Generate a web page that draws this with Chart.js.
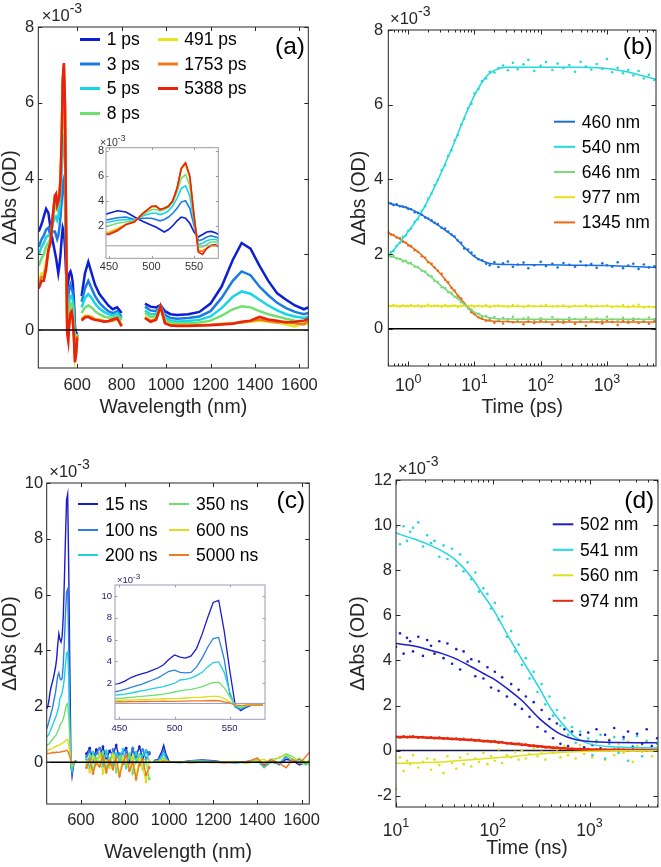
<!DOCTYPE html>
<html>
<head>
<meta charset="utf-8">
<title>Transient absorption</title>
<script src="https://cdn.jsdelivr.net/npm/chart.js@4.4.1/dist/chart.umd.min.js"></script>
<style>
  html, body { margin: 0; padding: 0; background: #fff; }
  body { width: 661px; height: 867px; position: relative; overflow: hidden; }
  canvas { position: absolute; }
</style>
</head>
<body>
<canvas id="panelA"></canvas>
<canvas id="panelB"></canvas>
<canvas id="panelC"></canvas>
<canvas id="panelD"></canvas>
<canvas id="insetA"></canvas>
<canvas id="insetC"></canvas>
<script>
const FONT = "'Liberation Sans', Arial, Helvetica, sans-serif";
const AXIS = "#262626";

// tick labels
const ticksWavelength = [600, 800, 1000, 1200, 1400, 1600];
const ticksInsetX = [450, 500, 550];
const ticksAbsAB = [0, 2, 4, 6, 8];
const ticksAbsC = [0, 2, 4, 6, 8, 10];
const ticksAbsD = [-2, 0, 2, 4, 6, 8, 10, 12];
const ticksInsetAY = [2, 4, 6, 8];
const ticksInsetCY = [2, 4, 6, 8, 10];

// (a) ps spectra
const wavelengthsA = [427, 440, 450, 460, 470, 480, 490, 500, 505, 510,
  515, 520, 525, 530, 535, 540, 545, 550, 555, 560,
  565, 570, 575, 580, 585, 590, 595, 600, 610, 620,
  635, 650, 665, 680, 700, 720, 740, 760, 780, 800,
  850, 905, 930, 955, 975, 995, 1020, 1050, 1100, 1150,
  1200, 1250, 1300, 1340, 1380, 1420, 1460, 1500, 1540, 1580,
  1620, 1640];
const delaysA = ["1 ps", "3 ps", "5 ps", "8 ps", "491 ps", "1753 ps", "5388 ps"];
const colorsA = ["#0d1fd6", "#1a7ae6", "#17d4e8", "#6fe070", "#e6e61a", "#ef7a1d", "#e8220c"];
const ps1 = [2.6, 2.8, 3.0, 3.2, 3.1, 2.7, 2.35, 2.05, 1.9, 1.7,
  1.5, 1.7, 2.0, 2.4, 2.7, 2.6, 2.2, 1.5, 1.1, 1.3,
  1.5, 1.55, 1.45, 1.25, 0.8, 0.1, -0.1, -0.05, null, 0.9,
  1.5, 1.8, 1.5, 1.2, 0.95, 0.8, 0.65, 0.55, 0.6, 0.45,
  null, 0.7, 0.62, 0.6, 0.66, 0.5, 0.42, 0.4, 0.42, 0.48,
  0.7, 1.15, 1.85, 2.3, 2.15, 1.7, 1.3, 0.97, 0.8, 0.65,
  0.55, 0.6];
const ps3 = [2.2, 2.4, 2.5, 2.65, 2.7, 2.5, 2.6, 2.6, 2.5, 2.4,
  2.5, 2.7, 3.0, 3.4, 3.9, 4.0, 3.4, 2.0, 0.8, 0.9,
  1.1, 1.2, 1.1, 1.0, 0.6, -0.2, -0.3, -0.1, null, 0.75,
  1.1, 1.3, 1.1, 0.9, 0.72, 0.6, 0.5, 0.45, 0.5, 0.35,
  null, 0.62, 0.52, 0.5, 0.64, 0.4, 0.32, 0.3, 0.32, 0.36,
  0.5, 0.85, 1.3, 1.55, 1.45, 1.15, 0.92, 0.72, 0.58, 0.48,
  0.42, 0.45];
const ps5 = [2.0, 2.2, 2.3, 2.45, 2.5, 2.45, 2.8, 3.0, 3.0, 2.9,
  3.0, 3.2, 3.6, 4.2, 5.0, 5.2, 4.4, 2.3, 0.5, 0.6,
  0.8, 0.9, 0.9, 0.8, 0.4, -0.4, -0.4, -0.1, null, 0.6,
  0.85, 0.95, 0.85, 0.7, 0.57, 0.48, 0.42, 0.38, 0.45, 0.3,
  null, 0.52, 0.42, 0.42, 0.63, 0.32, 0.25, 0.23, 0.24, 0.27,
  0.36, 0.58, 0.88, 1.02, 0.96, 0.8, 0.65, 0.52, 0.42, 0.36,
  0.32, 0.35];
const ps8 = [1.7, 1.9, 2.0, 2.2, 2.3, 2.4, 2.9, 3.3, 3.3, 3.2,
  3.3, 3.5, 3.9, 4.7, 5.8, 6.1, 5.2, 2.6, 0.3, 0.3,
  0.5, 0.7, 0.7, 0.6, 0.2, -0.6, -0.5, -0.1, null, 0.45,
  0.6, 0.65, 0.6, 0.5, 0.42, 0.36, 0.33, 0.32, 0.38, 0.25,
  null, 0.45, 0.35, 0.36, 0.62, 0.26, 0.2, 0.18, 0.18, 0.2,
  0.25, 0.38, 0.55, 0.63, 0.6, 0.5, 0.42, 0.36, 0.3, 0.25,
  0.24, 0.28];
const ps491 = [1.3, 1.5, 1.5, 1.8, 2.1, 2.35, 3.0, 3.5, 3.55, 3.35,
  3.4, 3.6, 4.0, 5.0, 6.5, 6.9, 5.8, 2.8, 0.1, 0.0,
  0.2, 0.4, 0.4, 0.3, -0.1, -0.75, -0.6, -0.15, null, 0.3,
  0.38, 0.38, 0.35, 0.3, 0.28, 0.25, 0.24, 0.25, 0.3, 0.15,
  null, 0.35, 0.25, 0.3, 0.62, 0.2, 0.14, 0.12, 0.12, 0.13,
  0.14, 0.16, 0.18, 0.2, 0.22, 0.25, 0.22, 0.2, 0.15, 0.1,
  0.2, 0.15];
const ps1753 = [1.2, 1.4, 1.4, 1.7, 2.1, 2.35, 3.0, 3.55, 3.55, 3.35,
  3.4, 3.6, 4.0, 5.0, 6.6, 7.0, 5.9, 2.8, 0.0, -0.05,
  0.2, 0.4, 0.45, 0.3, -0.1, -0.8, -0.6, -0.15, null, 0.28,
  0.36, 0.36, 0.33, 0.28, 0.26, 0.24, 0.23, 0.25, 0.3, 0.12,
  null, 0.33, 0.24, 0.28, 0.62, 0.19, 0.13, 0.12, 0.12, 0.13,
  0.14, 0.16, 0.18, 0.2, 0.24, 0.28, 0.24, 0.2, 0.22, 0.18,
  0.15, 0.25];
const ps5388 = [1.1, 1.3, 1.3, 1.6, 2.1, 2.3, 3.0, 3.55, 3.6, 3.3,
  3.4, 3.55, 4.0, 5.0, 6.6, 7.05, 6.0, 2.8, -0.1, -0.3,
  0.2, 0.45, 0.5, 0.3, -0.2, -0.85, -0.65, -0.2, null, 0.25,
  0.33, 0.35, 0.3, 0.27, 0.25, 0.22, 0.24, 0.28, 0.32, 0.1,
  null, 0.32, 0.22, 0.27, 0.63, 0.18, 0.12, 0.11, 0.11, 0.12,
  0.13, 0.15, 0.17, 0.22, 0.25, 0.35, 0.28, 0.25, 0.2, 0.22,
  0.25, 0.3];
const spectraA = [ps1, ps3, ps5, ps8, ps491, ps1753, ps5388];

// (b) ps kinetics
const timesB = [0.5, 0.55, 0.6, 0.67, 0.75, 0.83, 0.92, 1.0, 1.1, 1.25,
  1.4, 1.6, 1.8, 2.0, 2.25, 2.5, 2.8, 3.2, 3.6, 4.0,
  4.5, 5.0, 5.6, 6.3, 7.0, 8.0, 9.0, 10, 11.5, 13,
  15, 17, 20, 23, 27, 32, 38, 45, 55, 65,
  80, 100, 120, 150, 180, 220, 270, 330, 400, 480,
  580, 700, 850, 1000, 1200, 1450, 1750, 2100, 2500, 3000,
  3600, 4300, 5200];
const timesBFit = [0.5, 0.7, 1, 1.5, 2, 3, 4, 5, 7, 10, 13, 16, 20, 30, 50, 100, 300, 1000, 2000, 3000, 5500];
const probesB = ["460 nm", "540 nm", "646 nm", "977 nm", "1345 nm"];
const colorsB = ["#1a6fdf", "#22dada", "#7ad97a", "#e4e412", "#ea6a15"];
const b460 = [3.38, 3.35, 3.31, 3.33, 3.28, 3.27, 3.25, 3.21, 3.20, 3.12,
  3.10, 3.05, 2.98, 2.95, 2.90, 2.84, 2.80, 2.70, 2.68, 2.60,
  2.52, 2.47, 2.36, 2.30, 2.15, 2.12, 2.04, 1.95, 1.86, 1.83,
  1.74, 1.70, 1.78, 1.65, 1.75, 1.80, 1.66, 1.72, 1.77, 1.62,
  1.70, 1.79, 1.68, 1.74, 1.64, 1.76, 1.71, 1.66, 1.80, 1.69,
  1.73, 1.63, 1.75, 1.70, 1.66, 1.78, 1.62, 1.69, 1.74, 1.60,
  1.72, 1.64, 1.67];
const b540 = [1.93, 2.05, 2.08, 2.22, 2.30, 2.46, 2.50, 2.62, 2.68, 2.86,
  2.93, 3.16, 3.28, 3.48, 3.62, 3.84, 3.98, 4.24, 4.38, 4.63,
  4.78, 5.04, 5.18, 5.46, 5.62, 5.90, 6.02, 6.30, 6.42, 6.63,
  6.70, 6.88, 6.86, 6.98, 7.05, 6.92, 7.12, 6.95, 7.08, 7.20,
  6.90, 7.04, 7.14, 6.93, 7.10, 6.98, 7.06, 6.88, 7.15, 7.02,
  6.94, 7.09, 6.96, 7.22, 6.87, 6.99, 6.84, 6.93, 6.78, 6.90,
  6.70, 6.80, 6.66];
const b646 = [1.97, 1.93, 1.95, 1.88, 1.87, 1.80, 1.82, 1.75, 1.76, 1.66,
  1.65, 1.55, 1.53, 1.43, 1.40, 1.28, 1.25, 1.11, 1.09, 0.98,
  0.96, 0.85, 0.82, 0.71, 0.67, 0.55, 0.51, 0.42, 0.40, 0.33,
  0.34, 0.28, 0.31, 0.22, 0.29, 0.24, 0.32, 0.21, 0.27, 0.30,
  0.23, 0.28, 0.20, 0.31, 0.25, 0.22, 0.29, 0.26, 0.19, 0.30,
  0.24, 0.27, 0.21, 0.32, 0.25, 0.23, 0.29, 0.20, 0.27, 0.26,
  0.22, 0.30, 0.25];
const b977 = [0.62, 0.60, 0.63, 0.61, 0.59, 0.62, 0.60, 0.61, 0.63, 0.60,
  0.62, 0.59, 0.61, 0.64, 0.60, 0.62, 0.61, 0.59, 0.63, 0.60,
  0.61, 0.62, 0.58, 0.61, 0.63, 0.60, 0.62, 0.59, 0.61, 0.60,
  0.63, 0.58, 0.61, 0.62, 0.60, 0.59, 0.63, 0.61, 0.58, 0.62,
  0.60, 0.61, 0.63, 0.59, 0.60, 0.62, 0.58, 0.61, 0.60, 0.63,
  0.59, 0.61, 0.60, 0.62, 0.58, 0.60, 0.63, 0.59, 0.61, 0.64,
  0.57, 0.59, 0.58];
const b1345 = [2.58, 2.52, 2.51, 2.44, 2.42, 2.33, 2.30, 2.23, 2.21, 2.10,
  2.06, 1.94, 1.90, 1.78, 1.74, 1.64, 1.55, 1.47, 1.31, 1.24,
  1.09, 1.02, 0.88, 0.81, 0.67, 0.58, 0.44, 0.39, 0.30, 0.27,
  0.21, 0.23, 0.16, 0.22, 0.14, 0.20, 0.17, 0.24, 0.12, 0.19,
  0.15, 0.22, 0.18, 0.11, 0.20, 0.16, 0.23, 0.13, 0.19, 0.08,
  0.21, 0.17, 0.14, 0.22, 0.18, 0.10, 0.20, 0.16, 0.23, 0.15,
  0.19, 0.13, 0.21];
const b460Fit = [3.36, 3.30, 3.23, 3.08, 2.94, 2.74, 2.58, 2.45, 2.18, 1.93, 1.82, 1.76, 1.73, 1.72, 1.71, 1.71, 1.70, 1.69, 1.67, 1.66, 1.64];
const b540Fit = [1.95, 2.25, 2.6, 3.05, 3.45, 4.1, 4.6, 5.0, 5.65, 6.25, 6.6, 6.8, 6.92, 7.0, 7.0, 7.0, 7.0, 6.97, 6.88, 6.8, 6.68];
const b646Fit = [1.96, 1.88, 1.77, 1.6, 1.45, 1.18, 1.0, 0.87, 0.66, 0.44, 0.35, 0.3, 0.27, 0.26, 0.25, 0.25, 0.25, 0.25, 0.25, 0.25, 0.25];
const b977Fit = [0.61, 0.61, 0.61, 0.61, 0.61, 0.61, 0.61, 0.61, 0.61, 0.61, 0.6, 0.6, 0.6, 0.6, 0.6, 0.6, 0.6, 0.6, 0.59, 0.59, 0.58];
const b1345Fit = [2.57, 2.43, 2.25, 2.02, 1.8, 1.49, 1.22, 1.0, 0.69, 0.38, 0.26, 0.22, 0.2, 0.19, 0.18, 0.18, 0.18, 0.18, 0.18, 0.18, 0.18];

// (c) ns spectra
const wavelengthsC = [445, 450, 455, 460, 465, 470, 475, 480, 485, 490,
  495, 500, 505, 510, 515, 520, 525, 530, 535, 540,
  545, 550, 555, 560, 565, 570, 575, 580, 600, 625,
  640, 655, 670, 685, 700, 715, 730, 745, 760, 775,
  790, 805, 820, 835, 850, 865, 880, 895, 910, 920,
  930, 950, 965, 975, 985, 1000, 1050, 1100, 1150, 1200,
  1250, 1300, 1350, 1400, 1430, 1460, 1500, 1530, 1560, 1590,
  1620, 1640];
const delaysC = ["15 ns", "100 ns", "200 ns", "350 ns", "600 ns", "5000 ns"];
const colorsC = ["#1b1bd0", "#2b82e0", "#22d0e0", "#6ee06e", "#dede1a", "#f07a20"];
const ns15 = [1.9, 2.0, 2.2, 2.5, 2.7, 2.85, 3.0, 3.2, 3.4, 3.7,
  4.2, 4.6, 4.4, 4.3, 4.5, 5.2, 6.5, 8.0, 9.4, 9.6,
  6.8, 3.2, 0.0, -0.5, -0.2, 0.0, 0.0, 0.05, null, 0.3,
  0.5, 0.1, 0.45, 0.2, 0.55, 0.05, 0.4, 0.25, 0.6, 0.1,
  0.35, 0.5, 0.0, 0.45, 0.2, 0.55, 0.15, 0.4, 0.3, null,
  0.05, 0.1, 0.35, 0.6, 0.3, 0.02, 0.0, 0.05, 0.08, 0.05,
  0.0, 0.0, 0.02, 0.05, -0.1, 0.0, -0.05, 0.1, 0.05, -0.1,
  0.0, 0.05];
const ns100 = [1.2, 1.3, 1.45, 1.6, 1.75, 1.9, 2.1, 2.3, 2.5, 2.8,
  3.1, 3.2, 3.0, 2.95, 3.0, 3.5, 4.3, 5.3, 6.1, 6.2,
  4.2, 1.0, -0.2, -0.4, -0.1, 0.0, 0.05, 0.0, null, 0.2,
  0.4, 0.0, 0.3, 0.5, 0.1, 0.35, -0.1, 0.45, 0.2, 0.3,
  -0.05, 0.4, 0.15, 0.5, 0.0, 0.25, 0.45, 0.1, 0.35, null,
  0.05, 0.08, 0.25, 0.45, 0.2, 0.0, 0.0, 0.04, 0.06, 0.03,
  0.0, -0.02, 0.0, 0.08, -0.15, 0.05, -0.1, 0.2, 0.0, 0.1,
  -0.05, 0.0];
const ns200 = [0.9, 0.95, 1.0, 1.1, 1.2, 1.3, 1.4, 1.5, 1.6, 1.7,
  1.85, 2.0, 2.3, 2.35, 2.5, 2.7, 3.0, 3.5, 3.9, 3.95,
  3.0, 1.2, -0.1, -0.3, -0.1, 0.0, 0.0, 0.0, null, 0.1,
  -0.2, 0.35, 0.0, 0.25, -0.15, 0.4, 0.1, -0.1, 0.3, 0.05,
  0.45, -0.2, 0.2, 0.0, 0.35, -0.1, 0.25, 0.4, 0.0, null,
  0.03, 0.05, 0.15, 0.3, 0.12, 0.0, -0.02, 0.03, 0.04, 0.02,
  0.0, -0.03, 0.02, 0.05, -0.2, 0.0, -0.05, 0.25, 0.1, -0.05,
  0.0, -0.1];
const ns350 = [0.6, 0.62, 0.65, 0.7, 0.75, 0.8, 0.85, 0.9, 0.95, 1.0,
  1.1, 1.2, 1.3, 1.4, 1.45, 1.55, 1.7, 1.9, 2.05, 2.1,
  1.6, 0.8, 0.0, -0.2, -0.05, 0.0, 0.0, 0.0, null, -0.1,
  0.25, -0.3, 0.15, 0.0, 0.35, -0.2, 0.1, 0.3, -0.35, 0.2,
  0.0, -0.15, 0.3, -0.4, 0.1, 0.25, -0.25, 0.05, -0.6, null,
  0.02, 0.03, 0.1, 0.15, 0.08, 0.0, 0.0, 0.02, 0.02, 0.0,
  0.0, 0.0, -0.02, 0.1, -0.05, 0.1, 0.15, 0.3, 0.2, 0.0,
  -0.1, 0.0];
const ns600 = [0.4, 0.42, 0.45, 0.45, 0.48, 0.5, 0.5, 0.55, 0.55, 0.58,
  0.6, 0.6, 0.62, 0.65, 0.68, 0.7, 0.72, 0.78, 0.8, 0.8,
  0.6, 0.3, 0.0, -0.1, 0.0, 0.0, 0.0, 0.0, null, 0.0,
  -0.35, 0.2, -0.1, 0.3, -0.4, 0.05, -0.2, 0.25, -0.05, -0.45,
  0.15, 0.0, -0.3, 0.2, -0.55, 0.1, -0.15, -0.7, 0.05, null,
  0.0, 0.02, 0.05, 0.1, 0.05, 0.0, 0.0, 0.0, 0.0, -0.02,
  0.0, 0.02, -0.05, 0.05, 0.1, -0.05, 0.2, 0.25, 0.05, 0.15,
  0.0, 0.1];
const ns5000 = [0.3, 0.32, 0.3, 0.33, 0.32, 0.35, 0.33, 0.35, 0.34, 0.36,
  0.35, 0.35, 0.36, 0.37, 0.38, 0.38, 0.39, 0.4, 0.42, 0.4,
  0.3, 0.2, 0.0, -0.05, 0.0, 0.0, 0.0, 0.0, null, -0.2,
  0.1, -0.4, 0.0, -0.15, 0.2, -0.35, 0.05, -0.25, 0.15, -0.5,
  -0.05, 0.25, -0.3, 0.0, -0.6, -0.1, 0.1, -0.45, -0.2, null,
  0.0, 0.0, 0.02, 0.05, 0.02, 0.0, 0.0, -0.02, 0.0, 0.0,
  -0.03, 0.0, 0.0, 0.15, -0.15, 0.1, -0.05, -0.2, 0.1, -0.05,
  0.2, 0.4];
const spectraC = [ns15, ns100, ns200, ns350, ns600, ns5000];

// (d) ns kinetics
const timesD = [10, 11, 12, 13, 14, 15, 17, 19, 21, 23,
  25, 28, 31, 34, 38, 42, 46, 50, 55, 60,
  66, 72, 80, 88, 96, 105, 115, 125, 140, 155,
  170, 185, 200, 220, 240, 265, 290, 320, 350, 385,
  420, 460, 500, 550, 600, 660, 720, 800, 880, 970,
  1070, 1180, 1300, 1450, 1600, 1800, 2000, 2250, 2500, 2800,
  3100, 3500, 3900, 4400, 5000];
const timesDFit = [10, 15, 20, 30, 40, 60, 80, 100, 150, 200, 300, 400, 500, 700, 1000, 2000, 5000];
const probesD = ["502 nm", "541 nm", "560 nm", "974 nm"];
const colorsD = ["#1c1cc8", "#22d8dc", "#e0e01a", "#e62a10"];
const d502 = [4.60, 5.20, 4.30, 5.00, 4.85, 4.40, 5.05, 4.20, 4.90, 4.65,
  4.30, 4.85, 4.10, 4.75, 3.85, 4.50, 3.60, 4.40, 3.95, 4.05,
  3.30, 3.95, 3.20, 3.70, 2.80, 3.50, 2.65, 3.25, 2.40, 2.95,
  2.05, 2.70, 1.85, 2.40, 1.50, 2.15, 1.05, 1.80, 0.85, 1.40,
  0.55, 1.20, 0.30, 0.95, 0.20, 0.85, 0.05, 0.70, 0.15, 0.80,
  0.25, 0.95, 0.10, 0.70, 0.45, 1.00, 0.05, 0.60, 0.85, 0.15,
  0.75, 0.30, 0.95, 0.20, 0.55];
const d541 = [9.90, 9.15, 9.95, 9.30, 9.70, 9.88, 10.12, 9.05, 9.55, 9.20,
  9.30, 8.60, 9.10, 8.50, 8.95, 8.20, 8.70, 7.95, 8.35, 7.60,
  7.90, 7.05, 7.20, 6.95, 6.30, 6.55, 5.80, 5.95, 5.05, 5.30,
  4.40, 4.70, 3.80, 4.10, 3.20, 3.50, 2.60, 2.95, 2.05, 2.40,
  1.55, 1.80, 1.10, 1.45, 0.70, 1.05, 0.35, 0.85, 0.10, 0.55,
  -0.20, 0.45, 0.70, -0.35, 0.30, 0.60, -0.10, 0.50, -0.45, 0.20,
  0.65, -0.25, 0.40, 0.05, 0.30];
const d560 = [-1.70, -0.30, -0.90, -0.45, -0.60, -0.20, -0.75, -0.50, -0.35, -0.85,
  -0.40, -0.65, -1.00, -0.25, -0.55, -0.80, -0.30, -0.60, -0.15, -0.70,
  -0.35, -0.50, -0.10, -0.60, -0.25, -0.45, 0.05, -0.55, -0.20, -0.30,
  -0.05, -0.40, 0.00, -0.35, -0.15, 0.10, -0.25, -0.05, -0.40, 0.15,
  -0.10, 0.05, -0.30, 0.20, -0.20, 0.10, -0.35, 0.25, -0.15, 0.45,
  -0.30, 0.35, 0.05, -0.40, 0.50, -0.20, 0.30, -0.10, 0.40, -0.50,
  0.20, -0.05, 0.45, -0.25, 0.15];
const d974 = [0.62, 0.58, 0.63, 0.59, 0.61, 0.64, 0.57, 0.60, 0.56, 0.59,
  0.55, 0.58, 0.53, 0.56, 0.51, 0.54, 0.49, 0.52, 0.47, 0.49,
  0.44, 0.47, 0.41, 0.44, 0.39, 0.41, 0.35, 0.38, 0.32, 0.34,
  0.29, 0.31, 0.25, 0.27, 0.21, 0.23, 0.17, 0.19, 0.14, 0.17,
  0.12, 0.14, 0.09, 0.12, 0.07, 0.10, 0.05, 0.08, 0.03, 0.07,
  0.02, 0.06, 0.03, 0.05, 0.01, 0.05, 0.02, 0.04, 0.00, 0.05,
  0.02, 0.04, 0.01, 0.03, 0.02];
const d502Fit = [4.75, 4.65, 4.52, 4.3, 4.1, 3.72, 3.42, 3.2, 2.66, 2.22, 1.44, 1.0, 0.73, 0.5, 0.4, 0.36, 0.35];
const d541Fit = [9.65, 9.4, 9.2, 8.85, 8.5, 7.7, 6.9, 6.3, 4.95, 4.05, 2.8, 1.85, 1.3, 0.62, 0.3, 0.16, 0.12];
const d560Fit = [-0.56, -0.55, -0.53, -0.5, -0.46, -0.4, -0.36, -0.33, -0.27, -0.22, -0.15, -0.11, -0.08, -0.05, -0.03, -0.01, 0.0];
const d974Fit = [0.6, 0.6, 0.58, 0.55, 0.52, 0.47, 0.43, 0.4, 0.32, 0.27, 0.19, 0.14, 0.11, 0.07, 0.05, 0.04, 0.03];

const toXY = (xs, ys) => xs.map((x, i) => ({ x: x, y: ys[i] }));

const setCanvas = (id, left, top, w, h) => {
  let c = document.getElementById(id);
  c.width = w;
  c.height = h;
  c.style.left = left + "px";
  c.style.top = top + "px";
  c.style.width = w + "px";
  c.style.height = h + "px";
  return c;
};

const logTicks = (scale) => {
  let out = [];
  for (let e = Math.floor(Math.log10(scale.min)); e <= Math.ceil(Math.log10(scale.max)); e++) {
    for (let s = 1; s < 10; s++) {
      let v = s * Math.pow(10, e);
      if (v >= scale.min * 0.9999 && v <= scale.max * 1.0001) out.push({ v: v, major: s === 1, e: e });
    }
  }
  return out;
};

const supText = (ctx, base, sup, x, y, size, supSize, rise, align) => {
  ctx.textAlign = "left";
  ctx.textBaseline = "alphabetic";
  ctx.font = size + "px " + FONT;
  let w1 = ctx.measureText(base).width;
  ctx.font = supSize + "px " + FONT;
  let w2 = ctx.measureText(sup).width;
  let x0 = align === "center" ? x - (w1 + w2) / 2 : x;
  ctx.font = size + "px " + FONT;
  ctx.fillText(base, x0, y);
  ctx.font = supSize + "px " + FONT;
  ctx.fillText(sup, x0 + w1, y - rise);
};

const drawZero = (chart, z) => {
  let { ctx, chartArea: a, scales } = chart;
  let py = scales.y.getPixelForValue(z.at);
  ctx.save();
  ctx.strokeStyle = z.color;
  ctx.lineWidth = z.width;
  ctx.beginPath();
  ctx.moveTo(a.left, py);
  ctx.lineTo(a.right, py);
  ctx.stroke();
  ctx.restore();
};

const drawFrame = (chart, cfg) => {
  let { ctx, chartArea: a, scales } = chart;
  let len = cfg.tick, minor = cfg.minor;
  ctx.save();
  ctx.strokeStyle = cfg.box || AXIS;
  ctx.lineWidth = 1;
  ctx.beginPath();
  let xt = scales.x.type === "logarithmic" ? logTicks(scales.x) : scales.x.ticks.map(t => ({ v: t.value, major: true }));
  xt.forEach(t => {
    let px = Math.round(scales.x.getPixelForValue(t.v)) + 0.5;
    let l = t.major ? len : minor;
    ctx.moveTo(px, a.bottom);
    ctx.lineTo(px, a.bottom - l);
    ctx.moveTo(px, a.top);
    ctx.lineTo(px, a.top + l);
  });
  scales.y.ticks.forEach(t => {
    let py = Math.round(scales.y.getPixelForValue(t.value)) + 0.5;
    ctx.moveTo(a.left, py);
    ctx.lineTo(a.left + len, py);
    ctx.moveTo(a.right, py);
    ctx.lineTo(a.right - len, py);
  });
  ctx.stroke();
  ctx.strokeRect(a.left, a.top, a.right - a.left, a.bottom - a.top);
  ctx.restore();
};

const drawTexts = (chart, cfg) => {
  let { ctx, scales } = chart;
  ctx.save();
  ctx.fillStyle = cfg.textColor || AXIS;
  if (cfg.logLabel) {
    let L = cfg.logLabel;
    logTicks(scales.x).filter(t => t.major).forEach(t => {
      supText(ctx, "10", String(t.e), scales.x.getPixelForValue(t.v), L.y, L.size, L.sup, L.rise, "center");
    });
  }
  if (cfg.expo) {
    let E = cfg.expo;
    supText(ctx, "\u00d710", "-3", E.x, E.y, E.size, E.sup, E.rise, "left");
  }
  (cfg.texts || []).forEach(t => {
    ctx.save();
    ctx.font = t.size + "px " + FONT;
    ctx.textAlign = "center";
    ctx.textBaseline = "middle";
    ctx.fillStyle = t.color || AXIS;
    ctx.translate(t.x, t.y);
    if (t.rot) ctx.rotate(-Math.PI / 2);
    ctx.fillText(t.t, 0, 0);
    ctx.restore();
  });
  if (cfg.legend) {
    let lg = cfg.legend;
    ctx.font = lg.size + "px " + FONT;
    ctx.textAlign = "left";
    ctx.textBaseline = "middle";
    lg.items.forEach(it => {
      let col = lg.cols[it.col], y = lg.rows[it.row];
      ctx.strokeStyle = it.c;
      ctx.lineWidth = lg.lw;
      ctx.beginPath();
      ctx.moveTo(col[0], y);
      ctx.lineTo(col[1], y);
      ctx.stroke();
      ctx.fillStyle = "#000";
      ctx.fillText(it.t, col[2], y + 1);
    });
  }
  ctx.restore();
};

const makeDecor = (cfg) => ({
  id: "decor",
  beforeDraw(chart) {
    if (!cfg.white) return;
    let { ctx, chartArea: a } = chart;
    ctx.save();
    ctx.fillStyle = "#fff";
    ctx.fillRect(a.left, a.top, a.right - a.left, a.bottom - a.top);
    ctx.restore();
  },
  beforeDatasetsDraw(chart) {
    if (cfg.zero && cfg.zero.under) drawZero(chart, cfg.zero);
  },
  afterDatasetsDraw(chart) {
    if (cfg.zero && !cfg.zero.under) drawZero(chart, cfg.zero);
    drawFrame(chart, cfg);
  },
  afterDraw(chart) {
    drawTexts(chart, cfg);
  }
});

const linX = (min, max, tickValues, h, size, pad, color) => ({
  type: "linear", min: min, max: max,
  afterBuildTicks: s => { s.ticks = tickValues.map(v => ({ value: v })); },
  afterFit: s => { s.height = h; },
  grid: { display: false, drawTicks: false },
  border: { display: false },
  ticks: { autoSkip: false, maxRotation: 0, padding: pad, color: color,
    font: { family: FONT, size: size }, callback: v => String(v) }
});

const linY = (min, max, tickValues, w, size, pad, color) => ({
  type: "linear", min: min, max: max,
  afterBuildTicks: s => { s.ticks = tickValues.map(v => ({ value: v })); },
  afterFit: s => { s.width = w; },
  grid: { display: false, drawTicks: false },
  border: { display: false },
  ticks: { autoSkip: false, padding: pad, color: color,
    font: { family: FONT, size: size }, callback: v => String(v) }
});

const logX = (min, max, h) => ({
  type: "logarithmic", min: min, max: max,
  afterFit: s => { s.height = h; },
  grid: { display: false, drawTicks: false },
  border: { display: false },
  ticks: { display: false }
});

const buildChart = (canvas, datasets, p) => new Chart(canvas, {
  type: "line",
  data: { datasets: datasets },
  options: {
    responsive: false,
    animation: false,
    events: [],
    layout: { autoPadding: false, padding: { left: 0, top: p.top, right: p.right, bottom: 0 } },
    scales: { x: p.x, y: p.y },
    plugins: { legend: { display: false }, tooltip: { enabled: false } }
  },
  plugins: [makeDecor(p.decor)]
});

const lineSets = (xs, series, colors, width) => series.map((s, i) => ({
  data: toXY(xs, s),
  borderColor: colors[i],
  backgroundColor: colors[i],
  borderWidth: width,
  pointRadius: 0,
  spanGaps: false,
  order: -i
}));

const kinSets = (t, tFit, dots, fits, colors, fitWidths) => {
  let sets = [];
  dots.forEach((d, i) => {
    sets.push({ data: toXY(t, d), showLine: false, pointRadius: 1.3, pointBorderWidth: 0,
      pointBackgroundColor: colors[i], borderColor: colors[i], order: 1 });
    sets.push({ data: toXY(tFit, fits[i]), borderColor: colors[i], borderWidth: fitWidths[i],
      pointRadius: 0, cubicInterpolationMode: "monotone", order: 0 });
  });
  return sets;
};

// panel (a)
buildChart(setCanvas("panelA", 0, 0, 330, 430), lineSets(wavelengthsA, spectraA, colorsA, 2.5), {
  top: 27, right: 21.7,
  x: linX(425, 1640, ticksWavelength, 62, 16.5, 8, AXIS),
  y: linY(-1, 8, ticksAbsAB, 38.3, 16.5, 4, AXIS),
  decor: {
    tick: 4, minor: 2.5,
    zero: { at: 0, color: "#000", width: 1.5 },
    expo: { x: 41.7, y: 20.5, size: 16.5, sup: 14, rise: 8 },
    texts: [
      { t: "(a)", x: 290, y: 47.5, size: 24.5, color: "#000" },
      { t: "Wavelength (nm)", x: 173.3, y: 408, size: 19.5 },
      { t: "\u0394Abs (OD)", x: 11, y: 197.5, size: 19.5, rot: true }
    ],
    legend: {
      size: 17.5, lw: 3,
      cols: [[80, 100, 106.7], [158, 178, 184.3]],
      rows: [39.5, 64, 88.5, 113.5],
      items: delaysA.map((t, i) => ({ t: t, c: colorsA[i], col: i < 4 ? 0 : 1, row: i < 4 ? i : i - 4 }))
    }
  }
});

// panel (b)
buildChart(setCanvas("panelB", 330, 0, 331, 430),
  kinSets(timesB, timesBFit, [b460, b540, b646, b977, b1345], [b460Fit, b540Fit, b646Fit, b977Fit, b1345Fit], colorsB, [1.5, 1.5, 1.5, 1.5, 1.5]), {
  top: 30, right: 5,
  x: logX(0.5, 5500, 64),
  y: linY(-1, 8, ticksAbsAB, 58.3, 16.5, 5, AXIS),
  decor: {
    tick: 4.5, minor: 2.5,
    zero: { at: 0, color: "#000", width: 1.5 },
    logLabel: { y: 391, size: 17.5, sup: 12.5, rise: 8.5 },
    expo: { x: 60, y: 24, size: 16.5, sup: 14, rise: 8 },
    texts: [
      { t: "(b)", x: 307.8, y: 47.5, size: 24.5, color: "#000" },
      { t: "Time (ps)", x: 192.2, y: 408, size: 19.5 },
      { t: "\u0394Abs (OD)", x: 30, y: 198, size: 19.5, rot: true }
    ],
    legend: {
      size: 17.5, lw: 2,
      cols: [[224, 245, 251.7]],
      rows: [121.7, 146.8, 172, 197.2, 222.4],
      items: probesB.map((t, i) => ({ t: t, c: colorsB[i], col: 0, row: i }))
    }
  }
});

// panel (c)
const midC = (x) => x > 600 && x < 920;
const setsC = spectraC.map((s, i) => ({
  data: toXY(wavelengthsC, s),
  borderColor: colorsC[i],
  backgroundColor: colorsC[i],
  borderWidth: 1.4,
  pointRadius: ctx => (ctx.raw && midC(ctx.raw.x) ? 1.4 : 0),
  pointBorderWidth: 0,
  pointBackgroundColor: colorsC[i],
  spanGaps: false,
  order: -i
}));
buildChart(setCanvas("panelC", 0, 430, 330, 437), setsC, {
  top: 53, right: 20.7,
  x: linX(445, 1635, ticksWavelength, 63, 16.5, 6.5, AXIS),
  y: linY(-1.5, 10, ticksAbsC, 46.7, 16.5, 3.5, AXIS),
  decor: {
    tick: 4, minor: 2.5,
    zero: { at: 0, color: "#000", width: 1.5 },
    expo: { x: 49.3, y: 47, size: 16.5, sup: 14, rise: 8 },
    texts: [
      { t: "(c)", x: 290.8, y: 71.7, size: 24.5, color: "#000" },
      { t: "Wavelength (nm)", x: 178, y: 423, size: 19.5 },
      { t: "\u0394Abs (OD)", x: 11, y: 213.5, size: 19.5, rot: true }
    ],
    legend: {
      size: 17.5, lw: 2,
      cols: [[78, 98, 105], [169, 189, 196]],
      rows: [74, 100, 125],
      items: delaysC.map((t, i) => ({ t: t, c: colorsC[i], col: i < 3 ? 0 : 1, row: i % 3 }))
    }
  }
});

// panel (d)
buildChart(setCanvas("panelD", 330, 430, 331, 437),
  kinSets(timesD, timesDFit, [d502, d541, d560, d974], [d502Fit, d541Fit, d560Fit, d974Fit], colorsD, [1.5, 1.5, 1.5, 2.5]), {
  top: 50, right: 3,
  x: logX(10, 5100, 60),
  y: linY(-2.5, 12, ticksAbsD, 66, 16.5, 4, AXIS),
  decor: {
    tick: 4.5, minor: 2.5,
    zero: { at: 0, color: "#1a1a4a", width: 1.5, under: true },
    logLabel: { y: 406, size: 17.5, sup: 12.5, rise: 9 },
    expo: { x: 68, y: 43.5, size: 16.5, sup: 14, rise: 8 },
    texts: [
      { t: "(d)", x: 309.2, y: 70.8, size: 24.5, color: "#000" },
      { t: "Time (ns)", x: 197, y: 419, size: 19.5 },
      { t: "\u0394Abs (OD)", x: 29, y: 213.5, size: 19.5, rot: true }
    ],
    legend: {
      size: 17.5, lw: 2,
      cols: [[222.7, 243.3, 250]],
      rows: [94.3, 119.8, 145.3, 170.8],
      items: probesD.map((t, i) => ({ t: t, c: colorsD[i], col: 0, row: i }))
    }
  }
});

// inset of (a)
buildChart(setCanvas("insetA", 86, 130, 144, 150), lineSets(wavelengthsA, spectraA, colorsA, 1.6), {
  top: 17.7, right: 11.7,
  x: linX(446.5, 578.5, ticksInsetX, 21.7, 11, 2.5, "#333"),
  y: linY(-0.6, 8.25, ticksInsetAY, 20, 11, 2, "#333"),
  decor: {
    white: true, tick: 2.5, minor: 1.5, box: "#9a9aaa",
    zero: { at: 0.4, color: "#9a9aaa", width: 1 },
    textColor: "#333",
    expo: { x: 14, y: 15.5, size: 10.5, sup: 8.5, rise: 5 }
  }
});

// inset of (c)
buildChart(setCanvas("insetC", 95, 565, 185, 175), spectraC.map((s, i) => ({
  data: toXY(wavelengthsC, s), borderColor: colorsC[i], borderWidth: 1.3, pointRadius: 0, spanGaps: false, order: -i
})), {
  top: 20, right: 15,
  x: linX(446, 582, ticksInsetX, 20.7, 9.5, 3.3, "#22226a"),
  y: linY(-1.3, 11, ticksInsetCY, 20, 9.5, 3, "#22226a"),
  decor: {
    white: true, tick: 2.5, minor: 1.5, box: "#9a9abb",
    zero: { at: 0.15, color: "#9a9abb", width: 1 },
    textColor: "#22226a",
    expo: { x: 22, y: 18, size: 9.5, sup: 8, rise: 4.5 }
  }
});
</script>
</body>
</html>
